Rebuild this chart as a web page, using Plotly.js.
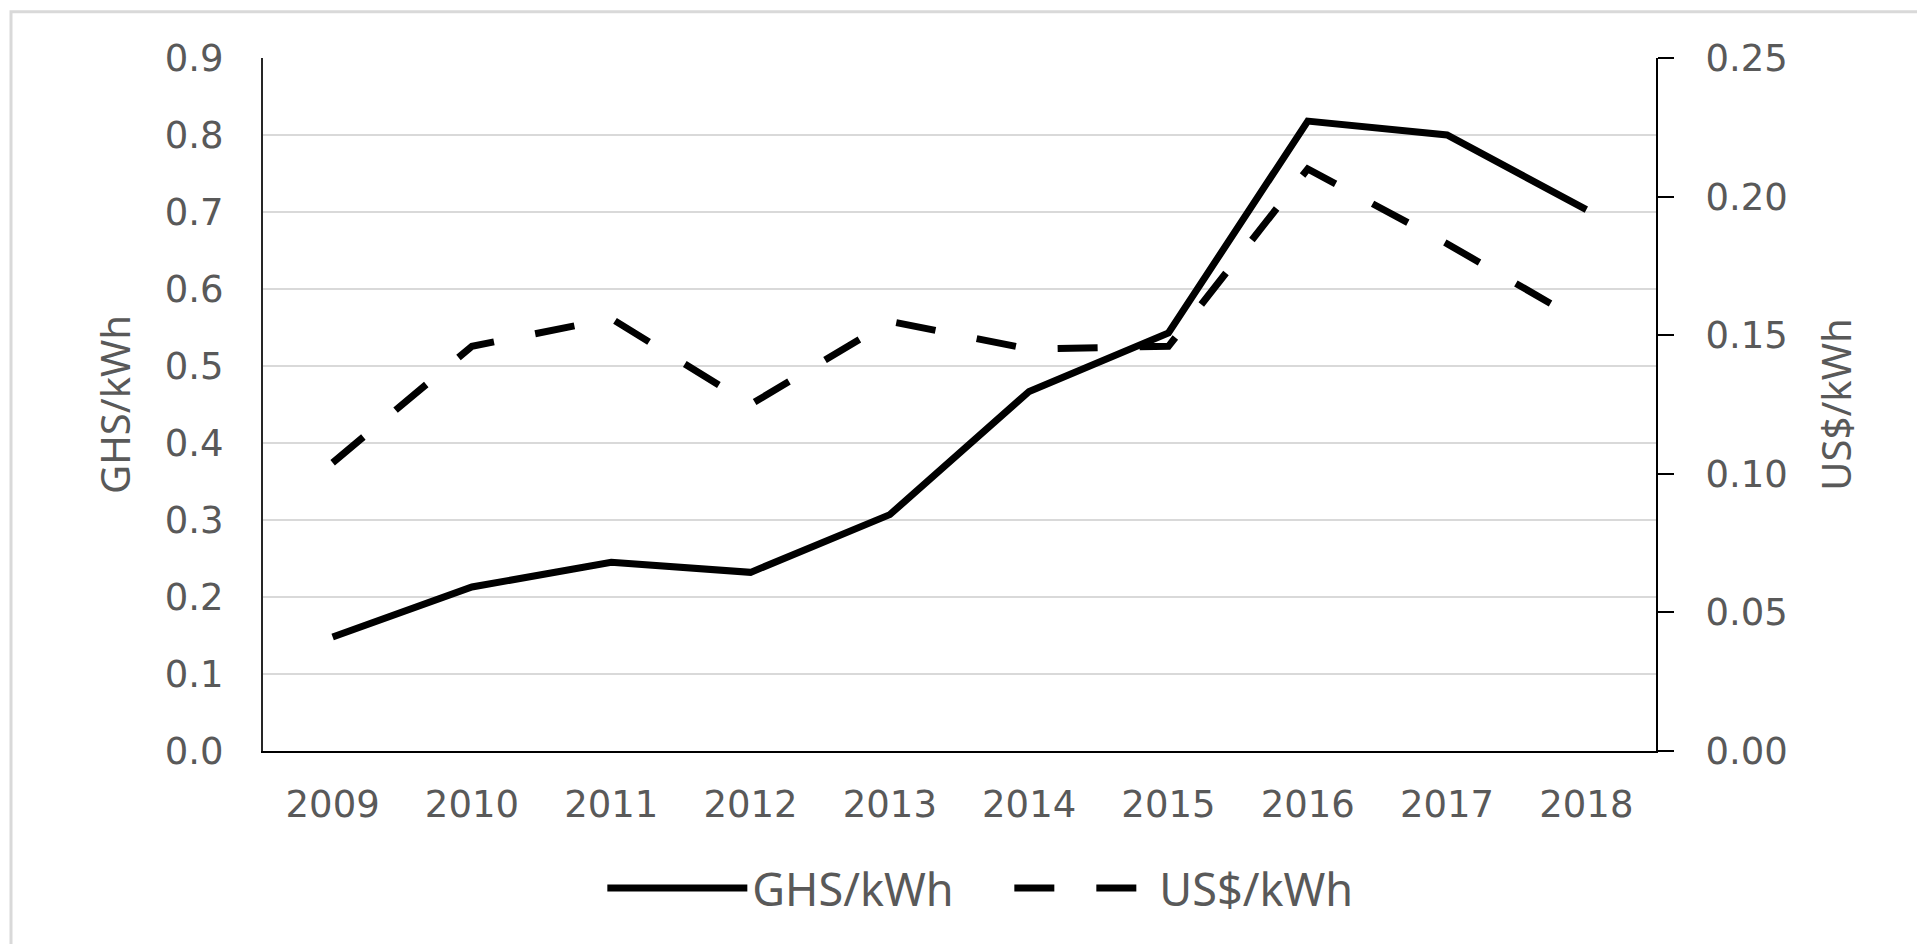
<!DOCTYPE html>
<html>
<head>
<meta charset="utf-8">
<script src="https://cdn.plot.ly/plotly-3.0.1.min.js"></script>
<style>
  html, body { margin: 0; padding: 0; background: #ffffff; overflow: hidden; }
  #chart { width: 1917px; height: 944px; }
</style>
</head>
<body>
<div id="chart"></div>
<script>
const years = ['2009','2010','2011','2012','2013','2014','2015','2016','2017','2018'];
const ghsPerKwh = [0.148, 0.213, 0.245, 0.232, 0.307, 0.467, 0.543, 0.818, 0.800, 0.703];
const usdPerKwh = [0.104, 0.146, 0.156, 0.125, 0.155, 0.145, 0.146, 0.210, 0.183, 0.154];
const seriesNames = ['GHS/kWh', 'US$/kWh'];
const leftTitle = 'GHS/kWh';
const rightTitle = 'US$/kWh';

const tickFont = { family: 'DejaVu Sans, sans-serif', size: 37, color: '#595959' };
const titleFont = { family: 'Noto Sans, sans-serif', size: 40, color: '#595959' };

const traces = [
  {
    x: years, y: ghsPerKwh, name: seriesNames[0], type: 'scatter', mode: 'lines',
    yaxis: 'y', line: { color: '#000000', width: 7 }
  },
  {
    x: years, y: usdPerKwh, name: seriesNames[1], type: 'scatter', mode: 'lines',
    yaxis: 'y2', line: { color: '#000000', width: 7, dash: '40px,42px' }
  }
];

const layout = {
  width: 1917, height: 944,
  margin: { l: 263, r: 261, t: 58, b: 193 },
  paper_bgcolor: '#ffffff', plot_bgcolor: '#ffffff',
  showlegend: true,
  legend: {
    orientation: 'h', x: 0.2436, xanchor: 'left', y: -0.198, yanchor: 'middle',
    font: { family: 'Noto Sans, sans-serif', size: 45, color: '#595959' },
    itemwidth: 140, tracegroupgap: 0,
    entrywidth: 252, entrywidthmode: 'pixels'
  },
  xaxis: {
    type: 'category', range: [-0.5, 9.5],
    showline: true, linecolor: '#000000', linewidth: 2,
    ticks: '', showgrid: false, zeroline: false,
    tickfont: tickFont, ticklabelstandoff: 20
  },
  yaxis: {
    range: [0, 0.9], dtick: 0.1, tick0: 0, tickformat: '.1f',
    showline: true, linecolor: '#262626', linewidth: 2,
    ticks: '', showgrid: true, gridcolor: '#d9d9d9', gridwidth: 2,
    zeroline: false, tickfont: tickFont, ticklabelstandoff: 30,
    title: { text: leftTitle, font: titleFont, standoff: 22 }
  },
  yaxis2: {
    range: [0, 0.25], dtick: 0.05, tick0: 0, tickformat: '.2f',
    overlaying: 'y', side: 'right',
    showline: true, linecolor: '#000000', linewidth: 2,
    ticks: 'outside', ticklen: 16, tickwidth: 2, tickcolor: '#000000',
    showgrid: false, zeroline: false, tickfont: tickFont, ticklabelstandoff: 24,
    title: { text: rightTitle, font: titleFont, standoff: 36 }
  },
  shapes: [
    {
      type: 'rect', xref: 'paper', yref: 'paper', layer: 'below',
      x0: -0.1809, x1: 1.3, y0: -0.4, y1: 1.0668,
      line: { color: '#d9d9d9', width: 3 }, fillcolor: 'rgba(0,0,0,0)'
    }
  ]
};

Plotly.newPlot('chart', traces, layout, { displayModeBar: false, staticPlot: true });
</script>
</body>
</html>
